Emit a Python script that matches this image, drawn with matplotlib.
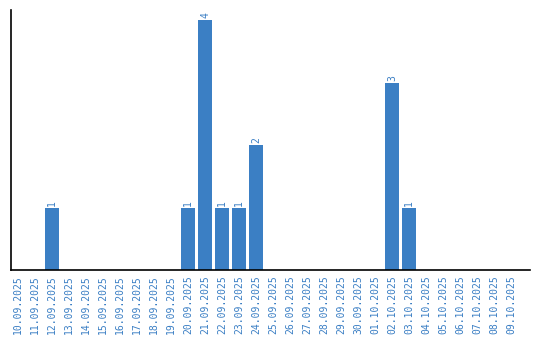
import matplotlib
matplotlib.use("Agg")
import matplotlib.pyplot as plt

# Data
dates = [
    "10.09.2025", "11.09.2025", "12.09.2025", "13.09.2025", "14.09.2025",
    "15.09.2025", "16.09.2025", "17.09.2025", "18.09.2025", "19.09.2025",
    "20.09.2025", "21.09.2025", "22.09.2025", "23.09.2025", "24.09.2025",
    "25.09.2025", "26.09.2025", "27.09.2025", "28.09.2025", "29.09.2025",
    "30.09.2025", "01.10.2025", "02.10.2025", "03.10.2025", "04.10.2025",
    "05.10.2025", "06.10.2025", "07.10.2025", "08.10.2025", "09.10.2025",
]
counts = [0, 0, 1, 0, 0, 0, 0, 0, 0, 0,
          1, 4, 1, 1, 2, 0, 0, 0, 0, 0,
          0, 0, 3, 1, 0, 0, 0, 0, 0, 0]

bar_color = "#3b7fc4"
text_color = "#3a7ec4"
font = "DejaVu Sans Mono"

fig = plt.figure(figsize=(5.4, 3.4), dpi=100)
ax = fig.add_axes([11 / 540, 70 / 340, 519 / 540, 260 / 340])

x = list(range(len(dates)))
ax.bar(x, counts, width=0.82, color=bar_color)

for xi, c in zip(x, counts):
    if c > 0:
        ax.text(xi, c + 0.03, str(c), rotation=90, ha="center", va="bottom",
                color=text_color, fontsize=7, family=font)

ax.set_xlim(-0.41, 30.1)
ax.set_ylim(0, 4.16)
ax.set_xticks(x)
ax.set_xticklabels(dates, rotation=90, color=text_color, fontsize=7, family=font)
ax.tick_params(axis="x", length=0, pad=4)
ax.set_yticks([])

for s in ["top", "right"]:
    ax.spines[s].set_visible(False)
ax.spines["left"].set_linewidth(1.2)
ax.spines["bottom"].set_linewidth(1.2)
ax.spines["left"].set_color("black")
ax.spines["bottom"].set_color("black")

fig.savefig("out.png", dpi=100)
